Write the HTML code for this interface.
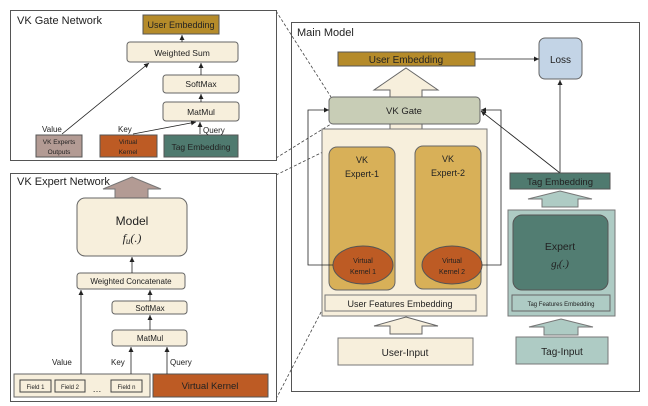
<!DOCTYPE html>
<html><head><meta charset="utf-8"><style>
html,body{margin:0;padding:0;background:#fff}
svg{display:block}
text{font-family:"Liberation Sans",sans-serif;fill:#222}
</style></head><body>
<svg width="648" height="406" viewBox="0 0 648 406" xmlns="http://www.w3.org/2000/svg">
<defs>
<marker id="a" markerWidth="6" markerHeight="6" refX="5" refY="3" orient="auto" markerUnits="userSpaceOnUse"><path d="M0,0.5 L5,3 L0,5.5z" fill="#222"/></marker>
</defs>
<!-- dashed connectors -->
<g stroke="#444" stroke-width="0.8" stroke-dasharray="3,2" fill="none">
<line x1="276" y1="11" x2="331" y2="97"/>
<line x1="276" y1="158" x2="331" y2="124"/>
<line x1="276" y1="175" x2="331" y2="148"/>
<line x1="276" y1="399" x2="333" y2="289"/>
</g>
<!-- Top left box -->
<rect x="10.5" y="10.5" width="266" height="150" fill="#fff" stroke="#555"/>
<text x="17" y="24" font-size="11">VK Gate Network</text>
<rect x="143" y="15" width="76" height="19" fill="#b58b2a" stroke="#555"/>
<text x="181" y="28" font-size="9" text-anchor="middle">User Embedding</text>
<rect x="127" y="42" width="111" height="20" rx="3" fill="#f7efdc" stroke="#666"/>
<text x="182" y="56" font-size="8.5" text-anchor="middle">Weighted Sum</text>
<rect x="163" y="75" width="76" height="18" rx="3" fill="#f7efdc" stroke="#666"/>
<text x="201" y="87" font-size="8.5" text-anchor="middle">SoftMax</text>
<rect x="163" y="102" width="76" height="19" rx="3" fill="#f7efdc" stroke="#666"/>
<text x="201" y="115" font-size="8.5" text-anchor="middle">MatMul</text>
<rect x="36" y="135" width="46" height="22" fill="#b39b94" stroke="#555"/>
<text x="59" y="144" font-size="6.5" text-anchor="middle">VK Experts</text>
<text x="59" y="154" font-size="6.5" text-anchor="middle">Outputs</text>
<rect x="100" y="135" width="57" height="22" fill="#bd5b24" stroke="#555"/>
<text x="128" y="144" font-size="6.5" text-anchor="middle">Virtual</text>
<text x="128" y="154" font-size="6.5" text-anchor="middle">Kernel</text>
<rect x="164" y="135" width="74" height="22" fill="#4f7a6f" stroke="#555"/>
<text x="201" y="150" font-size="8.5" text-anchor="middle">Tag Embedding</text>
<text x="42" y="132" font-size="8">Value</text>
<text x="118" y="132" font-size="8">Key</text>
<text x="203" y="133" font-size="8">Query</text>
<g stroke="#222" stroke-width="0.8" marker-end="url(#a)">
<line x1="62" y1="134" x2="149" y2="63"/>
<line x1="133" y1="134" x2="196" y2="122"/>
<line x1="200" y1="134" x2="200" y2="122"/>
<line x1="201" y1="102" x2="201" y2="94"/>
<line x1="201" y1="75" x2="201" y2="63"/>
<line x1="182" y1="42" x2="182" y2="35"/>
</g>
<!-- Bottom left box -->
<rect x="10.5" y="173.5" width="266" height="228" fill="#fff" stroke="#555"/>
<text x="17" y="185" font-size="11">VK Expert Network</text>
<path d="M132,177 L161,189 L148,189 L148,198 L115,198 L115,189 L103,189Z" fill="#b39b94" stroke="#777"/>
<rect x="77" y="198" width="110" height="58" rx="8" fill="#f7efdc" stroke="#666"/>
<text x="132" y="225" font-size="12" text-anchor="middle">Model</text>
<text x="132" y="242" font-size="12" text-anchor="middle" font-style="italic" style="font-family:'Liberation Serif',serif">f<tspan font-size="9" dy="2">u</tspan><tspan dy="-2">(.)</tspan></text>
<rect x="77" y="273" width="108" height="16" rx="3" fill="#f7efdc" stroke="#666"/>
<text x="131" y="284" font-size="8" text-anchor="middle">Weighted Concatenate</text>
<rect x="112" y="301" width="75" height="13" rx="3" fill="#f7efdc" stroke="#666"/>
<text x="150" y="311" font-size="8" text-anchor="middle">SoftMax</text>
<rect x="112" y="330" width="75" height="16" rx="3" fill="#f7efdc" stroke="#666"/>
<text x="150" y="341" font-size="8" text-anchor="middle">MatMul</text>
<rect x="14" y="374" width="136" height="23" fill="#f7efdc" stroke="#666"/>
<rect x="20" y="380" width="31" height="12" fill="#f7efdc" stroke="#444"/>
<text x="35.5" y="389" font-size="6" text-anchor="middle">Field 1</text>
<rect x="55" y="380" width="30" height="12" fill="#f7efdc" stroke="#444"/>
<text x="70" y="389" font-size="6" text-anchor="middle">Field 2</text>
<text x="97" y="392" font-size="9" text-anchor="middle">…</text>
<rect x="111" y="380" width="31" height="12" fill="#f7efdc" stroke="#444"/>
<text x="126.5" y="389" font-size="6" text-anchor="middle">Field n</text>
<rect x="153" y="374" width="115" height="23" fill="#bd5b24" stroke="#555"/>
<text x="210" y="389" font-size="9.5" text-anchor="middle">Virtual Kernel</text>
<text x="52" y="365" font-size="8">Value</text>
<text x="111" y="365" font-size="8">Key</text>
<text x="170" y="365" font-size="8">Query</text>
<g stroke="#222" stroke-width="0.8" marker-end="url(#a)">
<line x1="81" y1="374" x2="81" y2="290"/>
<line x1="131" y1="374" x2="131" y2="347"/>
<line x1="167" y1="374" x2="167" y2="347"/>
<line x1="150" y1="330" x2="150" y2="315"/>
<line x1="150" y1="301" x2="150" y2="290"/>
<line x1="132" y1="273" x2="132" y2="257"/>
</g>
<!-- Main model -->
<rect x="291.5" y="22.5" width="348" height="369" fill="none" stroke="#555"/>
<text x="297" y="36" font-size="11">Main Model</text>
<rect x="338" y="52" width="137" height="14" fill="#b58b2a" stroke="#555"/>
<text x="406" y="63" font-size="10" text-anchor="middle">User Embedding</text>
<rect x="539" y="38" width="43" height="41" rx="6" fill="#c3d4e6" stroke="#666"/>
<text x="560.5" y="63" font-size="10" text-anchor="middle">Loss</text>
<line x1="475" y1="59" x2="539" y2="59" stroke="#222" stroke-width="0.8" marker-end="url(#a)"/>
<path d="M406,68 L438,90 L422,90 L422,130 L390,130 L390,90 L374,90Z" fill="#f7efdc" stroke="#666"/>
<rect x="322" y="129" width="165" height="187" fill="#f7efdc" stroke="#777"/>
<rect x="329" y="97" width="151" height="27" rx="4" fill="#c8cdb6" stroke="#666"/>
<text x="404" y="114" font-size="9.5" text-anchor="middle">VK Gate</text>
<rect x="329" y="147" width="66" height="143" rx="8" fill="#d8b058" stroke="#666"/>
<text x="362" y="163" font-size="9" text-anchor="middle">VK</text>
<text x="362" y="177" font-size="9" text-anchor="middle">Expert-1</text>
<rect x="415" y="146" width="66" height="143" rx="8" fill="#d8b058" stroke="#666"/>
<text x="448" y="162" font-size="9" text-anchor="middle">VK</text>
<text x="448" y="176" font-size="9" text-anchor="middle">Expert-2</text>
<ellipse cx="363" cy="265" rx="30" ry="19" fill="#bd5b24" stroke="#555"/>
<text x="363" y="263" font-size="7" text-anchor="middle">Virtual</text>
<text x="363" y="274" font-size="7" text-anchor="middle">Kernel 1</text>
<ellipse cx="452" cy="265" rx="30" ry="19" fill="#bd5b24" stroke="#555"/>
<text x="452" y="263" font-size="7" text-anchor="middle">Virtual</text>
<text x="452" y="274" font-size="7" text-anchor="middle">Kernel 2</text>
<rect x="325" y="295" width="151" height="16" fill="#f7efdc" stroke="#777"/>
<text x="400" y="307" font-size="9" text-anchor="middle">User Features Embedding</text>
<g fill="none" stroke="#222" stroke-width="0.8">
<polyline points="333,265 308,265 308,110 329,110" marker-end="url(#a)"/>
<polyline points="482,265 501,265 501,110 481,110" marker-end="url(#a)"/>
<line x1="560" y1="173" x2="481" y2="111" marker-end="url(#a)"/>
<line x1="560" y1="173" x2="560" y2="80" marker-end="url(#a)"/>
</g>
<path d="M406,317 L438,326 L422,326 L422,334 L390,334 L390,326 L374,326Z" fill="#f7efdc" stroke="#666"/>
<rect x="338" y="338" width="135" height="27" fill="#f7efdc" stroke="#777"/>
<text x="405" y="356" font-size="10" text-anchor="middle">User-Input</text>
<rect x="510" y="173" width="100" height="16" fill="#4f7a6f" stroke="#555"/>
<text x="560" y="185" font-size="9.5" text-anchor="middle">Tag Embedding</text>
<path d="M560,191 L592,199 L578,199 L578,207 L542,207 L542,199 L528,199Z" fill="#aecbc4" stroke="#777"/>
<rect x="508" y="210" width="107" height="106" fill="#aecbc4" stroke="#777"/>
<rect x="513" y="215" width="95" height="75" rx="9" fill="#527d72" stroke="#555"/>
<text x="560" y="250" font-size="10.5" text-anchor="middle">Expert</text>
<text x="560" y="267" font-size="11" text-anchor="middle" font-style="italic" style="font-family:'Liberation Serif',serif">g<tspan font-size="8" dy="2">t</tspan><tspan dy="-2">(.)</tspan></text>
<rect x="512" y="295" width="98" height="16" fill="#aecbc4" stroke="#666"/>
<text x="561" y="306" font-size="6" text-anchor="middle">Tag Features Embedding</text>
<path d="M561,319 L593,327 L578,327 L578,335 L544,335 L544,327 L529,327Z" fill="#aecbc4" stroke="#777"/>
<rect x="516" y="337" width="92" height="27" fill="#aecbc4" stroke="#777"/>
<text x="562" y="355" font-size="10" text-anchor="middle">Tag-Input</text>
</svg>
</body></html>
